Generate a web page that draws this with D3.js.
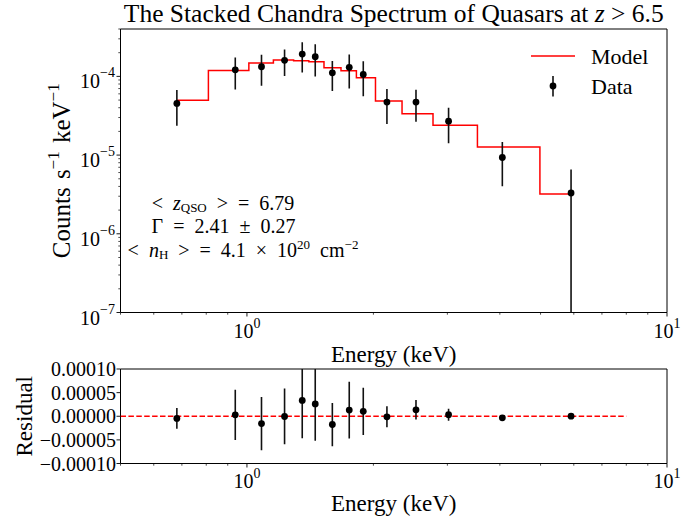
<!DOCTYPE html>
<html>
<head>
<meta charset="utf-8">
<script src="https://cdn.jsdelivr.net/npm/d3@7"></script>
<style>
  html, body { margin: 0; padding: 0; background: #fff; }
  svg { display: block; }
  text { font-family: "Liberation Serif", "Times New Roman", serif; fill: #000; }
</style>
</head>
<body>
<div id="chart"></div>
<script>
// ---------------- data ----------------
const energy = [0.681, 0.938, 1.083, 1.229, 1.354, 1.454, 1.597, 1.752, 1.892, 2.154, 2.526, 3.02, 4.055, 5.91];
const counts = [4.53e-5, 1.21e-4, 1.325e-4, 1.598e-4, 1.921e-4, 1.776e-4, 1.111e-4, 1.302e-4, 1.06e-4, 4.71e-5, 4.71e-5, 2.7e-5, 9.32e-6, 3.3e-6];
const countErr = [2.17e-5, 5.3e-5, 5.65e-5, 5.9e-5, 8.0e-5, 7.77e-5, 4.58e-5, 6.0e-5, 5.0e-5, 2.22e-5, 2.05e-5, 1.29e-5, 5.3e-6, 3.26e-6];
const model = [4.99e-5, 1.19e-4, 1.48e-4, 1.61e-4, 1.58e-4, 1.53e-4, 1.29e-4, 1.18e-4, 9.6e-5, 4.85e-5, 3.34e-5, 2.4e-5, 1.27e-5, 3.21e-6];
const residual = [-0.45e-5, 0.3e-5, -1.55e-5, -0.05e-5, 3.35e-5, 2.6e-5, -1.75e-5, 1.3e-5, 1.05e-5, -0.12e-5, 1.37e-5, 0.32e-5, -0.33e-5, 0.02e-5];
const xTicks = [1, 10];
const xTickExp = ["0", "1"];
const yTopTicks = [1e-7, 1e-6, 1e-5, 1e-4];
const yTopTickExp = ["−7", "−6", "−5", "−4"];
const yResTicks = [-1e-4, -5e-5, 0, 5e-5, 1e-4];
const yResTickLabels = ["−0.00010", "−0.00005", "0.00000", "0.00005", "0.00010"];
const refLineRange = [0.5, 8];
const titleText = "The Stacked Chandra Spectrum of Quasars at ";

// ---------------- layout ----------------
const W = 696, H = 518;
const L = 120.5, R = 667;
const topT = 29, topB = 312.5;
const resT = 369, resB = 463.5;

const svg = d3.select("#chart").append("svg").attr("width", W).attr("height", H);

const x = d3.scaleLog().domain([0.5, 10]).range([L, R]);
const yTop = d3.scaleLog().domain([1e-7, 4e-4]).range([topB, topT]);
const yRes = d3.scaleLinear().domain([-1e-4, 1e-4]).range([resB, resT]);

const defs = svg.append("defs");
defs.append("clipPath").attr("id", "clipTop").append("rect")
  .attr("x", L).attr("y", topT).attr("width", R - L).attr("height", topB - topT);
defs.append("clipPath").attr("id", "clipRes").append("rect")
  .attr("x", L).attr("y", resT).attr("width", R - L).attr("height", resB - resT);

function minorLog(lo, hi) {
  const out = [];
  for (let e = Math.floor(Math.log10(lo)); e <= Math.ceil(Math.log10(hi)); e++) {
    for (let k = 2; k <= 9; k++) {
      const v = k * Math.pow(10, e);
      if (v >= lo * 0.9999 && v <= hi * 1.0001) out.push(v);
    }
  }
  return out;
}

// ---------- x axes (both panels) ----------
function drawXAxis(yPos, labelY) {
  const g = svg.append("g");
  minorLog(0.5, 10).forEach(v => {
    g.append("line").attr("x1", x(v)).attr("x2", x(v)).attr("y1", yPos).attr("y2", yPos + 2.2)
      .attr("stroke", "#000").attr("stroke-width", 0.7);
  });
  xTicks.forEach((v, i) => {
    g.append("line").attr("x1", x(v)).attr("x2", x(v)).attr("y1", yPos).attr("y2", yPos + 4)
      .attr("stroke", "#000").attr("stroke-width", 0.9);
    const t = g.append("text").attr("x", x(v)).attr("y", labelY)
      .attr("text-anchor", "middle").attr("font-size", 20);
    t.append("tspan").text("10");
    t.append("tspan").attr("font-size", 14).attr("dy", -10).text(xTickExp[i]);
  });
}
drawXAxis(topB, 338);
drawXAxis(resB, 488);

// ---------- top y axis ----------
const gy = svg.append("g");
minorLog(1e-7, 4e-4).forEach(v => {
  gy.append("line").attr("x1", L - 2.2).attr("x2", L).attr("y1", yTop(v)).attr("y2", yTop(v))
    .attr("stroke", "#000").attr("stroke-width", 0.7);
});
yTopTicks.forEach((v, i) => {
  gy.append("line").attr("x1", L - 4).attr("x2", L).attr("y1", yTop(v)).attr("y2", yTop(v))
    .attr("stroke", "#000").attr("stroke-width", 0.9);
  const t = gy.append("text").attr("x", 115).attr("y", yTop(v) + 12)
    .attr("text-anchor", "end").attr("font-size", 20);
  t.append("tspan").text("10");
  t.append("tspan").attr("font-size", 14).attr("dy", -11).text(yTopTickExp[i]);
});

// ---------- residual y axis ----------
yResTicks.forEach((v, i) => {
  svg.append("line").attr("x1", L - 4).attr("x2", L).attr("y1", yRes(v)).attr("y2", yRes(v))
    .attr("stroke", "#000").attr("stroke-width", 0.9);
  svg.append("text").attr("x", 116).attr("y", yRes(v) + 7)
    .attr("text-anchor", "end").attr("font-size", 20).text(yResTickLabels[i]);
});

// ---------- frames ----------
function frame(t, b) {
  svg.append("line").attr("x1", L).attr("x2", R).attr("y1", t).attr("y2", t).attr("stroke", "#000").attr("stroke-width", 1);
  svg.append("line").attr("x1", R).attr("x2", R).attr("y1", t).attr("y2", b).attr("stroke", "#000").attr("stroke-width", 1);
  svg.append("line").attr("x1", L).attr("x2", L).attr("y1", t).attr("y2", b).attr("stroke", "#000").attr("stroke-width", 1);
  svg.append("line").attr("x1", L).attr("x2", R).attr("y1", b).attr("y2", b).attr("stroke", "#000").attr("stroke-width", 1);
}
frame(topT, topB);
frame(resT, resB);

// ---------- model step (mid steps in energy) ----------
const edges = [energy[0]];
for (let i = 0; i < energy.length - 1; i++) edges.push((energy[i] + energy[i + 1]) / 2);
const stepPts = edges.map((e, i) => [e, model[i]]);
stepPts.push([energy[energy.length - 1], model[model.length - 1]]);
const gTop = svg.append("g").attr("clip-path", "url(#clipTop)");
gTop.append("path")
  .attr("d", d3.line().x(d => x(d[0])).y(d => yTop(d[1])).curve(d3.curveStepAfter)(stepPts))
  .attr("fill", "none").attr("stroke", "#ff0000").attr("stroke-width", 1.5);

// ---------- data points ----------
energy.forEach((e, i) => {
  const lo = Math.max(counts[i] - countErr[i], 1e-9);
  gTop.append("line").attr("x1", x(e)).attr("x2", x(e))
    .attr("y1", yTop(counts[i] + countErr[i])).attr("y2", yTop(lo))
    .attr("stroke", "#111").attr("stroke-width", 1.6);
  gTop.append("circle").attr("cx", x(e)).attr("cy", yTop(counts[i])).attr("r", 3.4).attr("fill", "#000");
});

// ---------- residual panel ----------
const gRes = svg.append("g").attr("clip-path", "url(#clipRes)");
gRes.append("line").attr("x1", x(refLineRange[0])).attr("x2", x(refLineRange[1]))
  .attr("y1", yRes(0)).attr("y2", yRes(0))
  .attr("stroke", "#ff0000").attr("stroke-width", 1.5).attr("stroke-dasharray", "5.5,2.4");
energy.forEach((e, i) => {
  gRes.append("line").attr("x1", x(e)).attr("x2", x(e))
    .attr("y1", yRes(residual[i] + countErr[i])).attr("y2", yRes(residual[i] - countErr[i]))
    .attr("stroke", "#111").attr("stroke-width", 1.6);
  gRes.append("circle").attr("cx", x(e)).attr("cy", yRes(residual[i])).attr("r", 3.4).attr("fill", "#000");
});

// ---------- legend ----------
const lg = svg.append("g");
lg.append("line").attr("x1", 531).attr("x2", 575).attr("y1", 56).attr("y2", 56)
  .attr("stroke", "#ff0000").attr("stroke-width", 1.5);
lg.append("text").attr("x", 591).attr("y", 64).attr("font-size", 22).text("Model");
lg.append("line").attr("x1", 553).attr("x2", 553).attr("y1", 76).attr("y2", 96.5)
  .attr("stroke", "#111").attr("stroke-width", 1.6);
lg.append("circle").attr("cx", 553).attr("cy", 86).attr("r", 3.4).attr("fill", "#000");
lg.append("text").attr("x", 591).attr("y", 94).attr("font-size", 22).text("Data");

// ---------- title ----------
const tt = svg.append("text").attr("x", (L + R) / 2).attr("y", 22).attr("text-anchor", "middle").attr("font-size", 25.5);
tt.append("tspan").text(titleText);
tt.append("tspan").attr("font-style", "italic").text("z");
tt.append("tspan").text(" > 6.5");

// ---------- axis labels ----------
svg.append("text").attr("x", (L + R) / 2).attr("y", 362).attr("text-anchor", "middle").attr("font-size", 23).text("Energy (keV)");
svg.append("text").attr("x", (L + R) / 2).attr("y", 511).attr("text-anchor", "middle").attr("font-size", 23).text("Energy (keV)");

const yl = svg.append("text").attr("transform", `translate(70,${(topT + topB) / 2}) rotate(-90)`)
  .attr("text-anchor", "middle").attr("font-size", 25).attr("word-spacing", 2);
yl.append("tspan").text("Counts s");
yl.append("tspan").attr("font-size", 17).attr("dy", -11).text("−1");
yl.append("tspan").attr("dy", 11).text(" keV");
yl.append("tspan").attr("font-size", 17).attr("dy", -11).text("−1");

svg.append("text").attr("transform", `translate(32,${(resT + resB) / 2}) rotate(-90)`)
  .attr("text-anchor", "middle").attr("font-size", 23).text("Residual");

// ---------- annotation ----------
const a1 = svg.append("text").attr("x", 223).attr("y", 210).attr("text-anchor", "middle")
  .attr("font-size", 20).attr("word-spacing", 5);
a1.append("tspan").text("< ");
a1.append("tspan").attr("font-style", "italic").text("z");
a1.append("tspan").attr("font-size", 13).attr("dy", 2).text("QSO");
a1.append("tspan").attr("dy", -2).text(" > = 6.79");

const a2 = svg.append("text").attr("x", 223.5).attr("y", 233).attr("text-anchor", "middle")
  .attr("font-size", 20).attr("word-spacing", 5);
a2.append("tspan").text("Γ = 2.41 ± 0.27");

const a3 = svg.append("text").attr("x", 243).attr("y", 256.5).attr("text-anchor", "middle")
  .attr("font-size", 20).attr("word-spacing", 5);
a3.append("tspan").text("< ");
a3.append("tspan").attr("font-style", "italic").text("n");
a3.append("tspan").attr("font-size", 13).attr("dy", 2).text("H");
a3.append("tspan").attr("dy", -2).text(" > = 4.1 × 10");
a3.append("tspan").attr("font-size", 13).attr("dy", -8).text("20");
a3.append("tspan").attr("dy", 8).text(" cm");
a3.append("tspan").attr("font-size", 13).attr("dy", -8).text("−2");
</script>
</body>
</html>
